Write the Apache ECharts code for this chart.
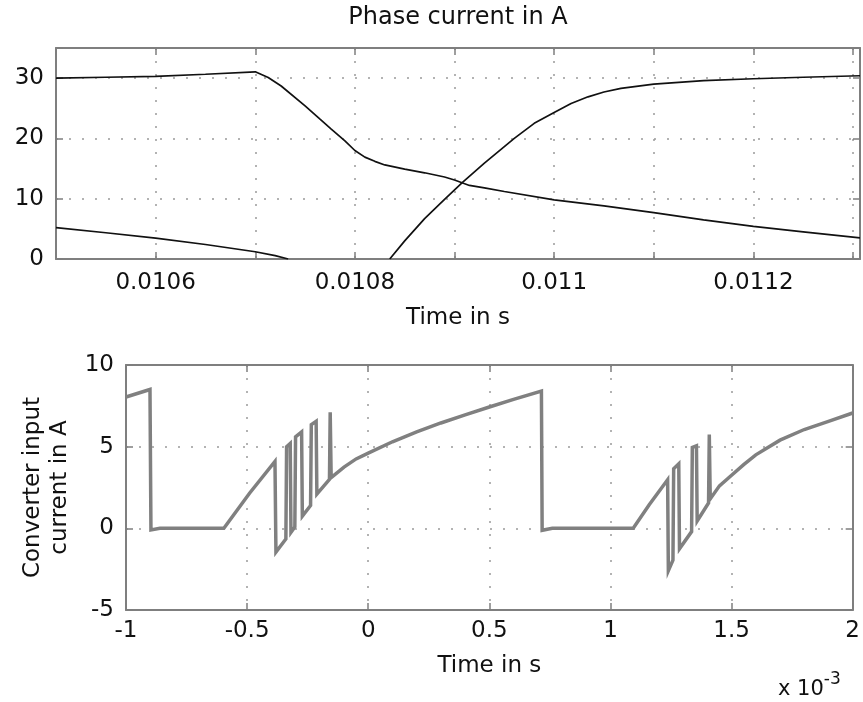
<!DOCTYPE html>
<html>
<head>
<meta charset="utf-8">
<script src="https://cdn.jsdelivr.net/npm/echarts@6/dist/echarts.min.js"></script>
<style>html,body{margin:0;padding:0;background:#fff}#c{width:863px;height:702px}</style>
</head>
<body>
<div id="c"></div>
<script>
// ---- Top plot: phase currents (time in s, current in A)
var phaseA = [[0.01050,30.0],[0.01055,30.15],[0.01060,30.3],[0.01065,30.65],[0.01070,31.05],[0.010713,30.1],[0.010726,28.7],[0.01075,25.4],[0.010765,23.2],[0.010776,21.6],[0.01079,19.6],[0.01080,18.0],[0.01081,16.9],[0.01082,16.2],[0.01083,15.6],[0.01085,14.9],[0.01087,14.3],[0.01089,13.6],[0.01090,13.1],[0.010915,12.2],[0.01093,11.8],[0.01095,11.2],[0.01100,9.8],[0.01105,8.8],[0.01110,7.7],[0.01115,6.5],[0.01120,5.4],[0.01125,4.5],[0.011307,3.5]];
var phaseB = [[0.01050,5.2],[0.01055,4.35],[0.01060,3.45],[0.01065,2.4],[0.01070,1.2],[0.01072,0.55],[0.010733,0]];
var phaseC = [[0.010835,0],[0.01085,3.0],[0.01087,6.7],[0.01089,9.9],[0.010908,12.7],[0.01093,15.9],[0.01096,20.0],[0.01098,22.5],[0.01100,24.3],[0.011017,25.8],[0.011034,26.9],[0.01105,27.7],[0.011067,28.3],[0.01110,29.0],[0.01115,29.6],[0.01120,29.9],[0.01125,30.15],[0.011307,30.4]];
// ---- Bottom plot: converter input current (time in 1e-3 s, current in A)
var inputCurrent = [[-1,8.04],[-0.901,8.5],[-0.897,-0.1],[-0.86,0],[-0.596,0],[-0.49,2.15],[-0.385,4.1],[-0.381,-1.45],[-0.340,-0.65],[-0.337,5.0],[-0.322,5.2],[-0.319,-0.25],[-0.303,0.08],[-0.300,5.6],[-0.275,5.9],[-0.272,0.75],[-0.238,1.4],[-0.235,6.35],[-0.215,6.55],[-0.212,2.1],[-0.160,3.0],[-0.157,7.1],[-0.153,3.1],[-0.1,3.75],[-0.05,4.25],[0,4.6],[0.1,5.3],[0.2,5.9],[0.3,6.45],[0.4,6.95],[0.5,7.43],[0.6,7.9],[0.715,8.4],[0.718,-0.12],[0.76,0],[1.094,0],[1.16,1.45],[1.236,2.98],[1.239,-2.6],[1.258,-1.95],[1.261,3.65],[1.282,3.95],[1.285,-1.25],[1.335,-0.2],[1.338,4.95],[1.355,5.05],[1.358,0.45],[1.405,1.55],[1.408,5.75],[1.412,1.8],[1.45,2.6],[1.5,3.25],[1.55,3.9],[1.6,4.5],[1.7,5.4],[1.8,6.05],[1.9,6.55],[2.0,7.06]];
// ---- Axis ticks
var topX = {min:0.0105, max:0.011307, step:0.0001};
var topY = {min:0, max:35, step:10};
var botX = {min:-1, max:2, step:0.5};
var botY = {min:-5, max:10, step:5};

var FONT = 'DejaVu Sans';
var TXT = '#111';
var AX = '#7f7f7f';
var grid = {type:[2,11], color:'#9a9a9a', width:1.5};

function onStep(v, step, mod){
  var n = v/step; var r = Math.round(n);
  if (Math.abs(n-r) > 1e-6) return false;
  return mod ? (r % mod === 0) : true;
}
function mkAxis(gi, ax, pos, labels, fmt, margin, name, gap){
  return {type:'value', gridIndex:gi, position:pos, min:ax.min, max:ax.max, interval:ax.step,
    axisLine:{show:true, onZero:false, lineStyle:{color:AX, width:2}},
    axisTick:{show:true, inside:true, length:7, lineStyle:{color:AX, width:1.5}},
    axisLabel:{show:labels, formatter:fmt, margin:margin, fontSize:23, color:TXT, fontFamily:FONT, showMinLabel:true, showMaxLabel:true},
    splitLine:{show:labels, lineStyle:grid},
    name:name||'', nameLocation:'middle', nameGap:gap||0, nameTextStyle:{fontSize:23, color:TXT, fontFamily:FONT, lineHeight:27}};
}
var fmtTopX = function(v){ return onStep(v, topX.step, 2) ? String(parseFloat(v.toFixed(4))) : ''; };
var fmtTopY = function(v){ return onStep(v, topY.step) ? String(v) : ''; };
var fmtBotX = function(v){ return onStep(v, botX.step) ? String(parseFloat(v.toFixed(2))) : ''; };
var fmtBotY = function(v){ return onStep(v, botY.step) ? String(v) : ''; };

var chart = echarts.init(document.getElementById('c'), null, {renderer:'canvas'});
chart.setOption({
  animation:false,
  backgroundColor:'#fff',
  grid:[{left:56, top:48, width:807, height:211}, {left:126, top:365, width:727, height:245}],
  xAxis:[
    mkAxis(0, topX, 'bottom', true, fmtTopX, 13, 'Time in s', 46),
    mkAxis(0, topX, 'top', false, null, 8),
    mkAxis(1, botX, 'bottom', true, fmtBotX, 10, 'Time in s', 43),
    mkAxis(1, botX, 'top', false, null, 8)
  ],
  yAxis:[
    mkAxis(0, topY, 'left', true, fmtTopY, 12),
    mkAxis(0, topY, 'right', false, null, 8),
    mkAxis(1, botY, 'left', true, fmtBotY, 12, 'Converter input\ncurrent in A', 50),
    mkAxis(1, botY, 'right', false, null, 8)
  ],
  graphic:[
    {type:'text', x:458, y:18, style:{text:'Phase current in A', fontSize:24, fontFamily:FONT, fill:TXT, textAlign:'center', textVerticalAlign:'middle'}},
    {type:'text', x:778, y:690, style:{text:'x 10{s|-3}', rich:{s:{fontSize:17, fontFamily:FONT, fill:TXT, verticalAlign:'bottom', padding:[0,0,20,0]}}, fontSize:21, fontFamily:FONT, fill:TXT, textVerticalAlign:'middle'}}
  ],
  series:[
    {type:'line', xAxisIndex:0, yAxisIndex:0, data:phaseA, showSymbol:false, lineStyle:{color:'#111', width:1.7}, z:3},
    {type:'line', xAxisIndex:0, yAxisIndex:0, data:phaseB, showSymbol:false, lineStyle:{color:'#111', width:1.7}, z:3},
    {type:'line', xAxisIndex:0, yAxisIndex:0, data:phaseC, showSymbol:false, lineStyle:{color:'#111', width:1.7}, z:3},
    {type:'line', xAxisIndex:2, yAxisIndex:2, data:inputCurrent, showSymbol:false, lineStyle:{color:'#808080', width:3.5, join:'miter'}, z:3}
  ]
});
</script>
</body>
</html>
